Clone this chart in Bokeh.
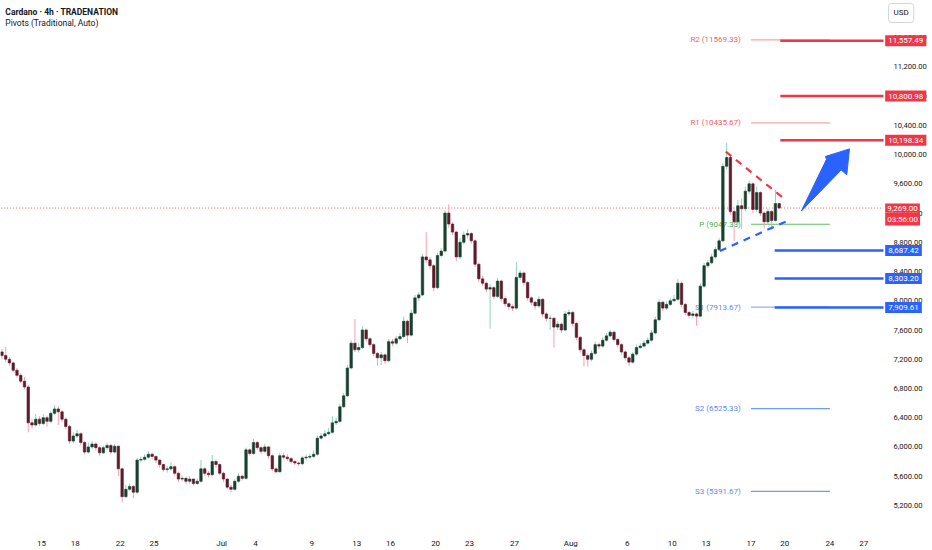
from bokeh.plotting import figure
from bokeh.models import FixedTicker, NumeralTickFormatter, Label
from bokeh.embed import file_html
from bokeh.resources import INLINE

# ---------------- data ----------------
closes = [7250, 7200, 7150, 7050, 6980, 6900, 6820, 6330, 6300, 6380,
          6320, 6400, 6350, 6460, 6520, 6480, 6380, 6280, 6080, 6150,
          6180, 6060, 5930, 6000, 6040, 5990, 5920, 5990, 6020, 5930,
          6010, 5700, 5320, 5420, 5460, 5380, 5820, 5830, 5860, 5900,
          5870, 5820, 5760, 5690, 5700, 5730, 5640, 5560, 5570, 5530,
          5560, 5500, 5530, 5700, 5640, 5620, 5800, 5760, 5640, 5560,
          5450, 5420, 5530, 5600, 5570, 5960, 5910, 6060, 5990, 5940,
          6000, 5880, 5700, 5660, 5880, 5860, 5840, 5800, 5780, 5770,
          5850, 5860, 5870, 5900, 6120, 6150, 6180, 6200, 6330, 6350,
          6550, 6700, 7080, 7420, 7330, 7360, 7600, 7480, 7400, 7280,
          7220, 7260, 7180, 7440, 7420, 7480, 7510, 7720, 7530, 7830,
          8040, 8080, 8600, 8560, 8480, 8180, 8620, 8680, 9200, 9050,
          8940, 8600, 8800, 8900, 8920, 8820, 8500, 8300, 8240, 8160,
          8180, 8060, 8270, 8030, 7960, 7920, 7900, 8320, 8380, 8250,
          8040, 7980, 7930, 8020, 7820, 7760, 7760, 7640, 7680, 7600,
          7820, 7840, 7690, 7500, 7330, 7250, 7200, 7280, 7400, 7380,
          7460, 7520, 7570, 7470, 7400, 7300, 7220, 7160, 7270, 7360,
          7380, 7420, 7460, 7560, 7740, 7980, 7900, 7950, 8000, 8020,
          8240, 7950, 7840, 7800, 7820, 7790, 8200, 8480, 8520, 8600,
          8700, 8820, 9840, 9960, 9220, 9080, 9300, 9260, 9500, 9600,
          9250, 9480, 9200, 9080, 9220, 9100, 9330, 9269]

highs = [7340, 7370, 7230, 7170, 7080, 7010, 6960, 6850, 6380, 6450,
         6420, 6450, 6430, 6490, 6570, 6560, 6500, 6400, 6300, 6200,
         6230, 6200, 6080, 6060, 6080, 6060, 6010, 6020, 6060, 6040,
         6040, 6020, 5720, 5480, 5500, 5480, 5850, 5870, 5900, 5940,
         5920, 5880, 5830, 5770, 5740, 5790, 5750, 5660, 5610, 5590,
         5600, 5570, 5570, 5820, 5720, 5670, 5890, 5830, 5770, 5660,
         5570, 5480, 5560, 5640, 5620, 5990, 5980, 6110, 6080, 6010,
         6040, 6010, 5900, 5720, 5920, 5920, 5900, 5860, 5820, 5800,
         5880, 5900, 5910, 5950, 6160, 6190, 6230, 6260, 6420, 6400,
         6590, 6740, 7120, 7460, 7750, 7420, 7650, 7620, 7500, 7420,
         7300, 7300, 7280, 7480, 7480, 7520, 7560, 7780, 7740, 7880,
         8080, 8120, 8640, 8940, 8600, 8500, 8660, 8720, 9240, 9320,
         9080, 8960, 8860, 8950, 8980, 8940, 8840, 8520, 8340, 8260,
         8230, 8200, 8310, 8290, 8060, 7980, 7950, 8530, 8420, 8400,
         8270, 8060, 8000, 8060, 8040, 7840, 7800, 7780, 7720, 7700,
         7860, 7880, 7860, 7710, 7520, 7350, 7280, 7320, 7440, 7430,
         7500, 7560, 7600, 7590, 7490, 7420, 7320, 7240, 7300, 7400,
         7420, 7460, 7500, 7600, 7780, 8020, 8000, 7990, 8040, 8080,
         8300, 8260, 7970, 7860, 7860, 7840, 8240, 8520, 8560, 8640,
         8740, 8860, 9880, 10160, 9990, 9250, 9380, 9400, 9560, 9640,
         9620, 9560, 9500, 9220, 9260, 9240, 9520, 9340]

lows = [7200, 7160, 7110, 7020, 6950, 6870, 6790, 6200, 6250, 6280,
        6290, 6300, 6280, 6330, 6440, 6300, 6340, 6240, 6040, 6050,
        6120, 6020, 5900, 5910, 5970, 5950, 5880, 5900, 5960, 5900,
        5910, 5600, 5240, 5300, 5400, 5300, 5360, 5790, 5810, 5840,
        5830, 5780, 5720, 5660, 5650, 5680, 5610, 5520, 5530, 5490,
        5500, 5470, 5480, 5510, 5600, 5580, 5600, 5720, 5610, 5520,
        5420, 5380, 5400, 5510, 5540, 5550, 5880, 5890, 5960, 5900,
        5920, 5840, 5670, 5640, 5650, 5830, 5810, 5770, 5750, 5740,
        5750, 5820, 5840, 5850, 5880, 6100, 6130, 6160, 6180, 6300,
        6330, 6530, 6680, 7060, 7300, 7290, 7340, 7440, 7360, 7240,
        7110, 7120, 7140, 7160, 7380, 7400, 7460, 7490, 7420, 7510,
        7810, 8000, 8060, 8520, 8430, 8130, 8160, 8600, 8660, 9000,
        8900, 8540, 8570, 8770, 8860, 8780, 8460, 8260, 8200, 8120,
        7620, 8020, 8040, 7990, 7920, 7870, 7860, 7880, 8280, 8210,
        8000, 7940, 7880, 7900, 7780, 7720, 7600, 7360, 7600, 7560,
        7580, 7790, 7650, 7460, 7290, 7100, 7100, 7170, 7260, 7340,
        7360, 7440, 7500, 7440, 7360, 7260, 7180, 7110, 7140, 7250,
        7340, 7360, 7400, 7440, 7540, 7720, 7860, 7870, 7930, 7980,
        8000, 7910, 7800, 7760, 7770, 7660, 7770, 8180, 8450, 8500,
        8580, 8680, 8800, 9800, 9180, 8820, 9040, 8980, 9220, 9460,
        9200, 9220, 9160, 8990, 9040, 8970, 9080, 9250]

first_open = 7300
opens = [first_open] + closes[:-1]

bar_start_day = -3.5          # days from 15 Jun
bar_step = 1.0 / 3.0
days = [bar_start_day + i * bar_step for i in range(len(closes))]

tick_days = [0, 3, 7, 10, 16, 19, 24, 28, 31, 35, 38, 42, 47, 52, 56, 59, 63, 66, 70, 73]
tick_labels = ["15", "18", "22", "25", "Jul", "4", "9", "13", "16", "20", "23", "27",
               "Aug", "6", "10", "13", "17", "20", "24", "27"]
price_ticks = list(range(5200, 11601, 400))

pivot_names = ["R2", "R1", "P", "S1", "S2", "S3"]
pivot_values = [11569.33, 10435.67, 9047.33, 7913.67, 6525.33, 5391.67]
pivot_text_colors = ["#f0616b", "#f0616b", "#4caf50", "#5b8def", "#5b8def", "#5b8def"]
pivot_line_colors = ["#f6a5ab", "#f6a5ab", "#66bb6a", "#8fb2f5", "#6f9bf0", "#6f9bf0"]
pivot_start_day, pivot_end_day, pivot_label_day = 63, 70, 62.1

resistance_levels = [11557.49, 10800.98, 10198.34]
support_levels = [8687.42, 8303.20, 7909.61]
resistance_start_day, support_start_day = 65.6, 65.1

last_price = 9269.00
countdown = "03:56:00"

red_trend_days = [60.76, 65.9]
red_trend_vals = [10041, 9402]
blue_trend_days = [60.23, 66.17]
blue_trend_vals = [8681, 9089]

arrow_days = [67.47, 69.7, 69.6, 71.74, 71.5, 71.0]
arrow_vals = [9229, 9935, 9975, 10078, 9725, 9790]

x_start, chart_end, x_end = -3.63, 74.76, 79.11
y_low, y_high = 4966, 12109

# ---------------- styling ----------------
RED = "#f23645"
BLUE = "#2962ff"
UP_BODY, UP_WICK = "#17402f", "#8ed3bd"
DN_BODY, DN_WICK = "#5e1b2b", "#f5a0b0"
FONT = "Roboto"

p = figure(width=932, height=550, x_range=(x_start, x_end), y_range=(y_low, y_high),
           output_backend="svg", toolbar_location=None, y_axis_location="right",
           min_border_left=0, min_border_top=0, min_border_right=0, min_border_bottom=25,
           background_fill_color="white", border_fill_color="white")
p.outline_line_color = None
p.xgrid.visible = False
p.ygrid.visible = False

for ax in (p.xaxis[0], p.yaxis[0]):
    ax.axis_line_color = None
    ax.major_tick_line_color = None
    ax.minor_tick_line_color = None
    ax.major_label_text_font = FONT
    ax.major_label_text_color = "#131722"

p.xaxis.major_label_text_font_size = "8px"
p.xaxis.ticker = FixedTicker(ticks=tick_days)
p.xaxis.major_label_overrides = {d: t for d, t in zip(tick_days, tick_labels)}
p.xaxis.major_label_standoff = 10
p.yaxis.major_label_text_font_size = "7.6px"
p.yaxis.ticker = FixedTicker(ticks=price_ticks)
p.yaxis.formatter = NumeralTickFormatter(format="0,0.00")
p.yaxis.major_label_standoff = 4
p.yaxis.fixed_location = chart_end

# current price dotted line
p.segment(x0=[x_start - 5], x1=[chart_end], y0=[last_price], y1=[last_price],
          line_color=RED, line_dash="1 2", line_width=1, line_alpha=0.8)

# pivots
p.segment(x0=[pivot_start_day] * len(pivot_values), x1=[pivot_end_day] * len(pivot_values),
          y0=pivot_values, y1=pivot_values, line_color=pivot_line_colors, line_width=1.2)
p.text(x=[pivot_label_day] * len(pivot_values), y=pivot_values,
       text=[f"{n} ({v:.2f})" for n, v in zip(pivot_names, pivot_values)],
       text_color=pivot_text_colors, text_align="right", text_baseline="middle",
       text_font_size="8px", text_font={"value": FONT})

# candles
up = [c >= o for o, c in zip(opens, closes)]
wick_colors = [UP_WICK if u else DN_WICK for u in up]
body_colors = [UP_BODY if u else DN_BODY for u in up]
tops = [max(o, c) for o, c in zip(opens, closes)]
bottoms = [min(o, c) for o, c in zip(opens, closes)]
p.segment(x0=days, x1=days, y0=lows, y1=highs, line_color=wick_colors, line_width=1)
p.vbar(x=days, width=0.22, top=tops, bottom=bottoms, fill_color=body_colors,
       line_color=body_colors, line_width=0.6)

# trend lines
p.line(red_trend_days, red_trend_vals, line_color=RED, line_width=2.2, line_dash="7 6")
p.line(blue_trend_days, blue_trend_vals, line_color=BLUE, line_width=2.2, line_dash="7 6")

# horizontal levels
p.segment(x0=[resistance_start_day] * 3, x1=[chart_end] * 3, y0=resistance_levels,
          y1=resistance_levels, line_color=RED, line_width=2.5)
p.segment(x0=[support_start_day] * 3, x1=[chart_end] * 3, y0=support_levels,
          y1=support_levels, line_color=BLUE, line_width=2.5)

# arrow
p.patch(arrow_days, arrow_vals, fill_color=BLUE, line_color=BLUE, line_width=1)

# axis value boxes
box_x = chart_end + 0.15
def box(y, text, color, y_offset=0, pad=3):
    p.add_layout(Label(x=box_x, y=y, y_offset=y_offset, text=text, text_color="white",
                       text_font=FONT, text_font_size="8px", text_baseline="middle",
                       background_fill_color=color, padding=pad))

for lv in resistance_levels:
    box(lv, f"{lv:,.2f}", RED)
for lv in support_levels:
    box(lv, f"{lv:,.2f}", BLUE)
box(last_price, f"{last_price:,.2f}", RED, pad=2)
box(last_price, countdown, RED, y_offset=-11, pad=2)

# currency box
p.add_layout(Label(x=chart_end + 0.45, y=11938, text="USD", text_color="#131722",
                   text_font=FONT, text_font_size="8px", text_baseline="middle",
                   background_fill_color="white", border_line_color="#d1d4dc",
                   padding=5, border_radius=3))

# title
p.add_layout(Label(x=-3.2, y=11958, text="Cardano · 4h · TRADENATION", text_color="#131722",
                   text_font=FONT, text_font_size="8.5px", text_font_style="bold",
                   text_baseline="middle"))
p.add_layout(Label(x=-3.2, y=11795, text="Pivots (Traditional, Auto)", text_color="#131722",
                   text_font=FONT, text_font_size="8.5px", text_baseline="middle"))

open("out.html", "w").write(file_html(p, INLINE))
